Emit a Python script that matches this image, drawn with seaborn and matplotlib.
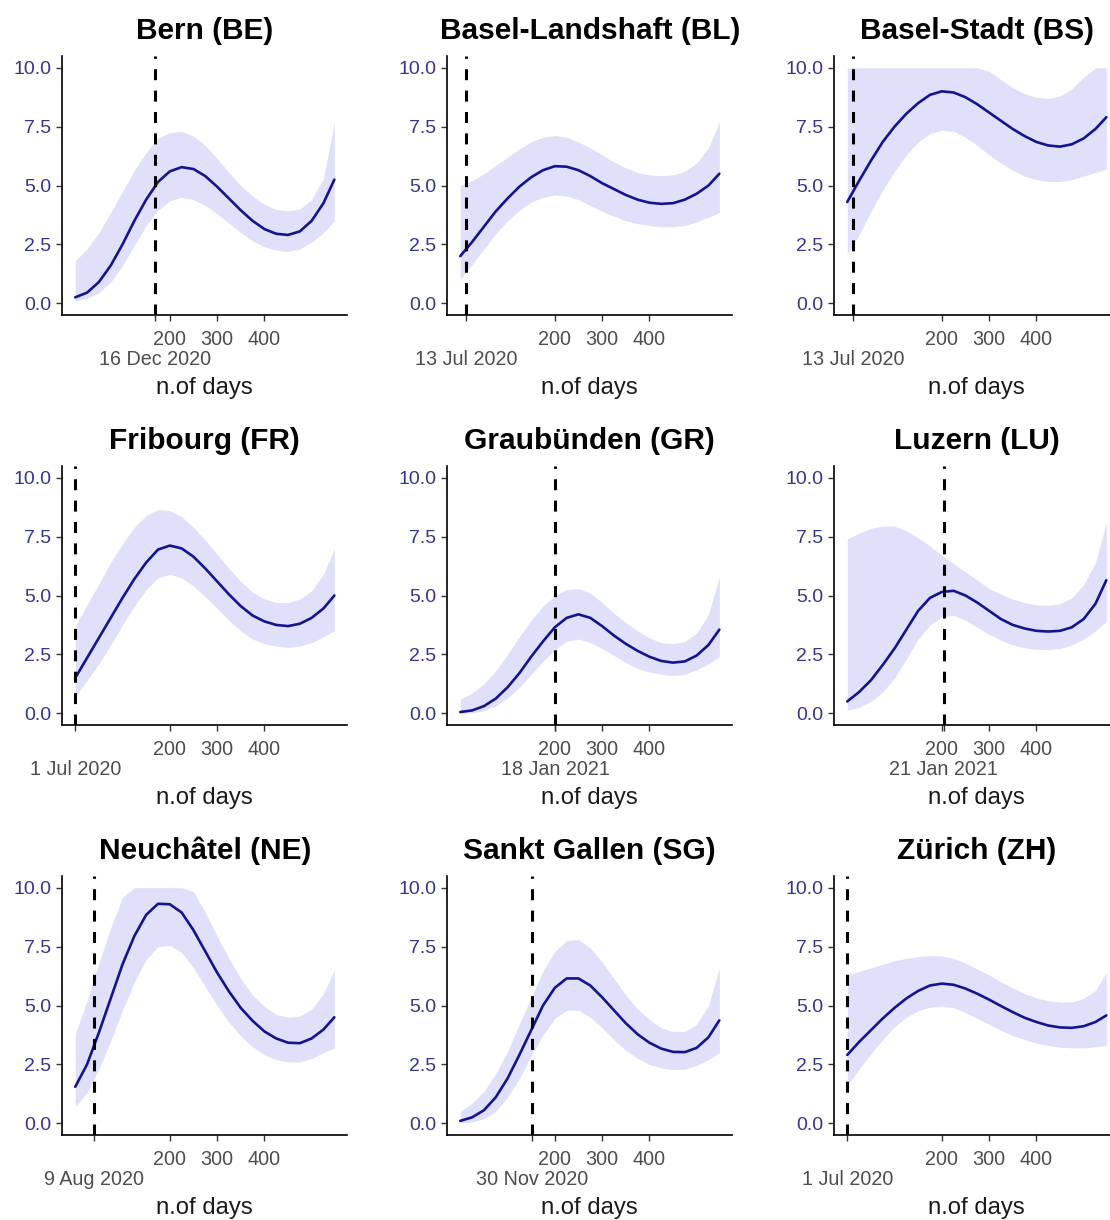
import pandas as pd
import numpy as np
import matplotlib
matplotlib.use("Agg")
import matplotlib.pyplot as plt
import seaborn as sns

# days since 1 Jul 2020
days = [0, 25, 50, 75, 100, 125, 150, 175, 200, 225, 250, 275, 300,
        325, 350, 375, 400, 425, 450, 475, 500, 525, 548]

cantons = ["Bern (BE)", "Basel-Landshaft (BL)", "Basel-Stadt (BS)",
           "Fribourg (FR)", "Graubünden (GR)", "Luzern (LU)",
           "Neuchâtel (NE)", "Sankt Gallen (SG)", "Zürich (ZH)"]

event_dates = ["2020-12-16", "2020-07-13", "2020-07-13",
               "2020-07-01", "2021-01-18", "2021-01-21",
               "2020-08-09", "2020-11-30", "2020-07-01"]

# fitted values
fit_be = [0.25, 0.45, 0.9, 1.6, 2.5, 3.5, 4.4, 5.15, 5.6, 5.78, 5.7, 5.4, 4.95,
          4.45, 3.95, 3.5, 3.15, 2.95, 2.9, 3.05, 3.5, 4.25, 5.25]
fit_bl = [2.0, 2.6, 3.25, 3.9, 4.45, 4.95, 5.35, 5.65, 5.82, 5.8, 5.65, 5.4, 5.1,
          4.85, 4.6, 4.4, 4.27, 4.22, 4.25, 4.4, 4.65, 5.0, 5.5]
fit_bs = [4.3, 5.2, 6.05, 6.85, 7.5, 8.05, 8.5, 8.85, 9.0, 8.95, 8.75, 8.45, 8.1,
          7.75, 7.4, 7.1, 6.85, 6.7, 6.65, 6.75, 7.0, 7.4, 7.9]
fit_fr = [1.5, 2.35, 3.2, 4.05, 4.9, 5.7, 6.4, 6.95, 7.12, 7.0, 6.65, 6.15, 5.6,
          5.05, 4.55, 4.15, 3.9, 3.75, 3.7, 3.8, 4.05, 4.45, 5.0]
fit_gr = [0.05, 0.12, 0.3, 0.62, 1.1, 1.7, 2.4, 3.05, 3.65, 4.05, 4.2, 4.05, 3.7,
          3.3, 2.95, 2.65, 2.4, 2.22, 2.15, 2.2, 2.45, 2.9, 3.55]
fit_lu = [0.5, 0.9, 1.4, 2.05, 2.75, 3.55, 4.35, 4.9, 5.15, 5.2, 5.0, 4.7, 4.35,
          4.0, 3.75, 3.6, 3.5, 3.47, 3.5, 3.65, 4.0, 4.65, 5.65]
fit_ne = [1.55, 2.5, 3.85, 5.3, 6.75, 7.95, 8.85, 9.32, 9.3, 8.95, 8.2, 7.3, 6.4,
          5.6, 4.9, 4.35, 3.9, 3.6, 3.42, 3.4, 3.6, 3.98, 4.5]
fit_sg = [0.1, 0.25, 0.55, 1.1, 1.9, 2.9, 3.95, 5.0, 5.75, 6.15, 6.15, 5.85, 5.35,
          4.8, 4.25, 3.78, 3.42, 3.17, 3.03, 3.02, 3.2, 3.65, 4.37]
fit_zh = [2.9, 3.45, 3.95, 4.45, 4.9, 5.3, 5.62, 5.85, 5.93, 5.88, 5.72, 5.5, 5.25,
          4.98, 4.72, 4.48, 4.3, 4.15, 4.07, 4.05, 4.12, 4.3, 4.58]

# lower bounds
lo_be = [0.1, 0.2, 0.45, 0.9, 1.6, 2.45, 3.3, 3.95, 4.35, 4.5, 4.4, 4.15, 3.8,
         3.4, 3.0, 2.65, 2.4, 2.25, 2.2, 2.3, 2.6, 3.0, 3.5]
lo_bl = [1.0, 1.65, 2.3, 2.95, 3.5, 3.95, 4.3, 4.5, 4.6, 4.55, 4.4, 4.15, 3.9,
         3.7, 3.5, 3.38, 3.3, 3.25, 3.25, 3.3, 3.45, 3.65, 3.85]
lo_bs = [2.1, 2.9, 3.9, 4.8, 5.6, 6.3, 6.85, 7.2, 7.35, 7.3, 7.05, 6.7, 6.3,
         5.95, 5.65, 5.4, 5.25, 5.17, 5.17, 5.25, 5.4, 5.55, 5.7]
lo_fr = [0.7, 1.4, 2.1, 2.9, 3.75, 4.55, 5.25, 5.75, 5.9, 5.75, 5.4, 4.95, 4.45,
         3.95, 3.5, 3.15, 2.95, 2.85, 2.8, 2.85, 3.0, 3.25, 3.5]
lo_gr = [0.0, 0.02, 0.1, 0.3, 0.65, 1.1, 1.65, 2.2, 2.7, 3.05, 3.15, 3.0, 2.75,
         2.45, 2.15, 1.9, 1.75, 1.65, 1.6, 1.65, 1.85, 2.1, 2.4]
lo_lu = [0.12, 0.25, 0.5, 0.9, 1.5, 2.3, 3.15, 3.75, 4.1, 4.15, 3.95, 3.65, 3.35,
         3.1, 2.9, 2.78, 2.72, 2.7, 2.75, 2.9, 3.15, 3.5, 3.9]
lo_ne = [0.7, 1.3, 2.3, 3.5, 4.8, 6.0, 6.95, 7.5, 7.55, 7.25, 6.6, 5.8, 5.0,
         4.3, 3.7, 3.25, 2.9, 2.7, 2.6, 2.6, 2.75, 3.0, 3.2]
lo_sg = [0.0, 0.05, 0.2, 0.5, 1.1, 1.9, 2.85, 3.75, 4.45, 4.8, 4.8, 4.5, 4.05,
         3.55, 3.1, 2.75, 2.5, 2.35, 2.28, 2.3, 2.45, 2.7, 3.0]
lo_zh = [1.6, 2.3, 2.95, 3.55, 4.1, 4.5, 4.78, 4.93, 4.97, 4.9, 4.7, 4.45, 4.2,
         3.95, 3.72, 3.55, 3.4, 3.3, 3.23, 3.2, 3.2, 3.25, 3.3]

# upper bounds (shown capped at 10)
hi_be = [1.8, 2.3, 3.0, 3.85, 4.75, 5.65, 6.4, 7.0, 7.25, 7.3, 7.1, 6.7, 6.15,
         5.55, 5.0, 4.55, 4.2, 3.98, 3.92, 4.0, 4.4, 5.3, 7.7]
hi_bl = [5.0, 5.2, 5.5, 5.85, 6.2, 6.55, 6.85, 7.05, 7.12, 7.05, 6.85, 6.6, 6.3,
         6.0, 5.75, 5.55, 5.45, 5.42, 5.45, 5.6, 5.95, 6.6, 7.7]
hi_bs = [10.0, 10.0, 10.0, 10.0, 10.0, 10.0, 10.0, 10.0, 10.0, 10.0, 10.0, 10.0, 9.85,
         9.5, 9.15, 8.9, 8.75, 8.7, 8.8, 9.1, 9.6, 10.0, 10.0]
hi_fr = [3.7, 4.6, 5.5, 6.4, 7.2, 7.9, 8.4, 8.65, 8.6, 8.35, 7.9, 7.35, 6.75,
         6.15, 5.6, 5.15, 4.85, 4.7, 4.7, 4.85, 5.2, 5.9, 7.0]
hi_gr = [0.6, 0.85, 1.25, 1.8, 2.5, 3.25, 3.95, 4.55, 5.0, 5.25, 5.3, 5.1, 4.7,
         4.25, 3.85, 3.5, 3.2, 3.0, 2.95, 3.05, 3.4, 4.2, 5.8]
hi_lu = [7.4, 7.65, 7.85, 7.95, 7.95, 7.75, 7.45, 7.1, 6.7, 6.35, 6.0, 5.65, 5.3,
         5.05, 4.85, 4.7, 4.6, 4.58, 4.65, 4.9, 5.45, 6.4, 8.1]
hi_ne = [3.8, 5.2, 6.8, 8.3, 9.6, 10.0, 10.0, 10.0, 10.0, 10.0, 9.85, 8.95, 7.95,
         7.0, 6.15, 5.45, 4.95, 4.62, 4.5, 4.55, 4.85, 5.5, 6.5]
hi_sg = [0.5, 0.85, 1.35, 2.1, 3.05, 4.2, 5.35, 6.45, 7.3, 7.75, 7.8, 7.45, 6.85,
         6.15, 5.45, 4.85, 4.4, 4.05, 3.9, 3.9, 4.2, 5.0, 6.6]
hi_zh = [6.3, 6.45, 6.6, 6.75, 6.9, 7.0, 7.08, 7.12, 7.1, 7.0, 6.8, 6.55, 6.3,
         6.0, 5.75, 5.5, 5.32, 5.2, 5.15, 5.15, 5.3, 5.65, 6.4]

fits = [fit_be, fit_bl, fit_bs, fit_fr, fit_gr, fit_lu, fit_ne, fit_sg, fit_zh]
lows = [lo_be, lo_bl, lo_bs, lo_fr, lo_gr, lo_lu, lo_ne, lo_sg, lo_zh]
highs = [hi_be, hi_bl, hi_bs, hi_fr, hi_gr, hi_lu, hi_ne, hi_sg, hi_zh]

sns.set_theme(style="ticks")
plt.rcParams['font.family'] = ['Liberation Sans', 'DejaVu Sans']

line_col = "#14148f"
band_col = "#e0e0fa"
ytick_col = "#35358f"
xtick_col = "#4d4d4d"

start = pd.Timestamp("2020-07-01")

W, H = 1110, 1220
lefts = [62.3, 447.3, 834.3]
bottoms = [315, 725, 1135]
aw, ah = 285, 259

fig = plt.figure(figsize=(W / 100, H / 100), dpi=100)

for i, name in enumerate(cantons):
    r, c = divmod(i, 3)
    ax = fig.add_axes([lefts[c] / W, (H - bottoms[r]) / H, aw / W, ah / H])
    df = pd.DataFrame({"day": days, "fit": fits[i], "lo": lows[i], "hi": highs[i]})

    ax.fill_between(df["day"], df["lo"], df["hi"], color=band_col, lw=0)
    sns.lineplot(data=df, x="day", y="fit", ax=ax, color=line_col, lw=1.9)

    ev = (pd.Timestamp(event_dates[i]) - start).days
    ax.axvline(ev, color="black", lw=2.2, linestyle=(0, (3.6, 3.4)))

    ax.set_xlim(-27.4, 575.4)
    ax.set_ylim(-0.5, 10.5)
    ax.set_yticks([0, 2.5, 5, 7.5, 10])
    ax.set_yticklabels(["0.0", "2.5", "5.0", "7.5", "10.0"])

    # numeric ticks on the major axis, the event date one line lower
    lab = pd.Timestamp(event_dates[i]).strftime("%d %b %Y").lstrip("0")
    ax.set_xticks([200, 300, 400])
    ax.set_xticklabels(["200", "300", "400"])
    ax.set_xticks([ev], minor=True)
    ax.set_xticklabels([lab], minor=True)

    ax.tick_params(axis="y", colors="#333333", labelcolor=ytick_col,
                   labelsize=14, length=4, width=1, pad=4)
    ax.tick_params(axis="x", which="major", colors="#333333", labelcolor=xtick_col,
                   labelsize=14.2, length=4, width=1, pad=7)
    ax.tick_params(axis="x", which="minor", colors="#333333", labelcolor=xtick_col,
                   labelsize=14.2, length=4, width=1, pad=21)

    for s in ["top", "right"]:
        ax.spines[s].set_visible(False)
    for s in ["left", "bottom"]:
        ax.spines[s].set_color("black")
        ax.spines[s].set_linewidth(1.2)

    ax.set_ylabel("")
    ax.set_xlabel("n.of days", fontsize=17.2, color="#1a1a1a")
    ax.xaxis.set_label_coords(0.5, -79 / ah)
    ax.xaxis.label.set_va("baseline")
    ax.set_title(name, fontsize=21.5, fontweight="bold", pad=12, color="black")

fig.savefig("out.png", dpi=100)
